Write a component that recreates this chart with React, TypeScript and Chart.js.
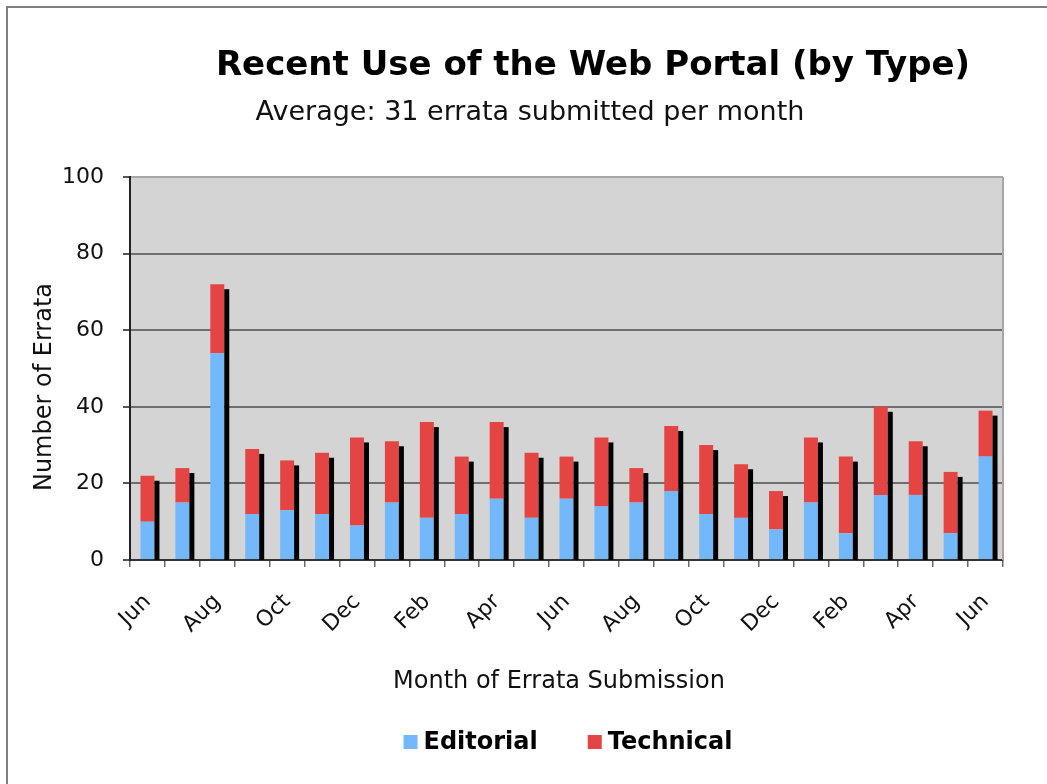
import React, { useEffect, useRef } from "react";
import { Chart, registerables } from "chart.js";

Chart.register(...registerables);

const MONTHS = ["Jun", "Jul", "Aug", "Sep", "Oct", "Nov", "Dec", "Jan", "Feb", "Mar", "Apr", "May", "Jun", "Jul", "Aug", "Sep", "Oct", "Nov", "Dec", "Jan", "Feb", "Mar", "Apr", "May", "Jun"];
const EDITORIAL = [10, 15, 54, 12, 13, 12, 9, 15, 11, 12, 16, 11, 16, 14, 15, 18, 12, 11, 8, 15, 7, 17, 17, 7, 27];
const TECHNICAL = [12, 9, 18, 17, 13, 16, 23, 16, 25, 15, 20, 17, 11, 18, 9, 17, 18, 14, 10, 17, 20, 23, 14, 16, 12];
const SERIES_NAMES = ["Editorial", "Technical"];
const SERIES_COLORS = ["#72B8FA", "#E44542"];
const Y_TICKS = [0, 20, 40, 60, 80, 100];

const TITLE = "Recent Use of the Web Portal (by Type)";
const SUBTITLE = "Average: 31 errata submitted per month";
const X_TITLE = "Month of Errata Submission";
const Y_TITLE = "Number of Errata";

const FONT = '"DejaVu Sans", Verdana, sans-serif';
const PLOT_BG = "#D4D4D4";

const decorPlugin = {
  id: "decor",
  beforeDraw(chart: any) {
    const { ctx, chartArea: ca } = chart;
    ctx.save();
    ctx.fillStyle = "#ffffff";
    ctx.fillRect(0, 0, chart.width, chart.height);
    ctx.fillStyle = PLOT_BG;
    ctx.fillRect(ca.left, ca.top, ca.right - ca.left, ca.bottom - ca.top);
    // outer frame (top and left)
    ctx.fillStyle = "#7E7E7E";
    ctx.fillRect(6, 6, chart.width - 6, 2);
    ctx.fillRect(6, 6, 2, chart.height - 6);
    ctx.restore();
  },
  afterDatasetsDraw(chart: any) {
    const { ctx } = chart;
    const yScale = chart.scales.y;
    const zero = yScale.getPixelForValue(0);
    const topMeta = chart.getDatasetMeta(chart.data.datasets.length - 1);
    ctx.save();
    ctx.fillStyle = "#000000";
    topMeta.data.forEach((bar: any) => {
      const right = bar.x + bar.width / 2;
      const top = bar.y + 5;
      ctx.fillRect(right, top, 5, zero - top);
    });
    ctx.restore();
  },
  afterDraw(chart: any) {
    const { ctx, chartArea: ca } = chart;
    ctx.save();
    // right border of the plot
    ctx.fillStyle = "#A6A6A6";
    ctx.fillRect(ca.right - 1, ca.top, 2, ca.bottom - ca.top);

    ctx.fillStyle = "#000000";
    ctx.textAlign = "center";
    ctx.textBaseline = "middle";
    ctx.font = `bold 34px ${FONT}`;
    ctx.fillText(TITLE, 593, 66);
    ctx.fillStyle = "#111111";
    ctx.font = `27px ${FONT}`;
    ctx.fillText(SUBTITLE, 530, 113);

    ctx.font = `24px ${FONT}`;
    ctx.fillText(X_TITLE, 559, 682);
    ctx.save();
    ctx.translate(45, 387);
    ctx.rotate(-Math.PI / 2);
    ctx.fillText(Y_TITLE, 0, 0);
    ctx.restore();

    // legend
    ctx.font = `bold 24px ${FONT}`;
    ctx.textAlign = "left";
    const box = 14;
    const gapBoxText = 6;
    const gapItems = 50;
    const widths = SERIES_NAMES.map((n) => ctx.measureText(n).width);
    const total = widths.reduce((a, w) => a + box + gapBoxText + w, 0) + gapItems * (SERIES_NAMES.length - 1);
    let x = 568 - total / 2;
    const cy = 742;
    SERIES_NAMES.forEach((name, i) => {
      ctx.fillStyle = SERIES_COLORS[i];
      ctx.fillRect(x, cy - box / 2, box, box);
      ctx.fillStyle = "#000000";
      ctx.fillText(name, x + box + gapBoxText, cy + 1);
      x += box + gapBoxText + widths[i] + gapItems;
    });
    ctx.restore();
  },
};

export default function App() {
  const canvasRef = useRef<HTMLCanvasElement | null>(null);

  useEffect(() => {
    if (!canvasRef.current) return;
    const chart = new Chart(canvasRef.current, {
      type: "bar",
      data: {
        labels: MONTHS,
        datasets: [
          { label: SERIES_NAMES[0], data: EDITORIAL, backgroundColor: SERIES_COLORS[0], borderWidth: 0 },
          { label: SERIES_NAMES[1], data: TECHNICAL, backgroundColor: SERIES_COLORS[1], borderWidth: 0 },
        ],
      },
      options: {
        responsive: false,
        animation: false,
        devicePixelRatio: 1,
        layout: { padding: { left: 0, top: 177, right: 44, bottom: 124 } },
        datasets: { bar: { categoryPercentage: 1, barPercentage: 0.4 } },
        plugins: {
          legend: { display: false },
          title: { display: false },
          tooltip: { enabled: false },
        },
        scales: {
          x: {
            stacked: true,
            afterFit(scale: any) {
              scale.height = 100;
            },
            grid: {
              display: true,
              offset: true,
              drawOnChartArea: false,
              drawTicks: true,
              tickLength: 7,
              color: "#6A6A6A",
              lineWidth: 1.5,
            },
            border: { display: true, color: "#333333", width: 2 },
            ticks: {
              autoSkip: false,
              minRotation: 45,
              maxRotation: 45,
              padding: 22,
              color: "#111111",
              font: { family: FONT, size: 22 },
              callback: (_v: any, i: number) => (i % 2 === 0 ? MONTHS[i] : ""),
            },
          },
          y: {
            stacked: true,
            min: Y_TICKS[0],
            max: Y_TICKS[Y_TICKS.length - 1],
            afterFit(scale: any) {
              scale.width = 130;
            },
            afterBuildTicks(scale: any) {
              scale.ticks = Y_TICKS.map((v) => ({ value: v }));
            },
            grid: {
              display: true,
              drawTicks: true,
              tickLength: 7,
              color: (c: any) => (c.tick && c.tick.value === 100 ? "#A6A6A6" : "#6E6E6E"),
              tickColor: "#555555",
              lineWidth: 2,
            },
            border: { display: true, color: "#222222", width: 2 },
            ticks: {
              padding: 19,
              color: "#111111",
              font: { family: FONT, size: 22 },
            },
          },
        },
      },
      plugins: [decorPlugin],
    });
    return () => chart.destroy();
  }, []);

  return (
    <div style={{ position: "fixed", left: 0, top: 0, width: 1047, height: 784, background: "#fff" }}>
      <canvas ref={canvasRef} width={1047} height={784} style={{ display: "block" }} />
    </div>
  );
}
